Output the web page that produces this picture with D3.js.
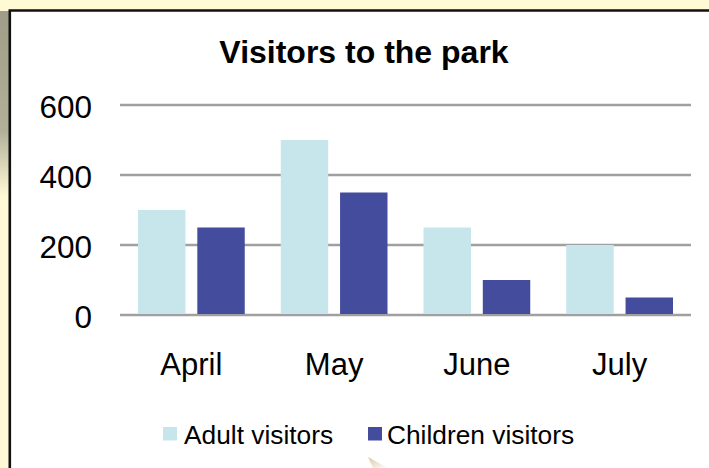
<!DOCTYPE html>
<html>
<head>
<meta charset="utf-8">
<title>Visitors to the park</title>
<script src="https://cdn.jsdelivr.net/npm/d3@7/dist/d3.min.js"></script>
<style>
  html, body { margin: 0; padding: 0; background: #fff9d6; }
  text { font-family: "Liberation Sans", Arial, sans-serif; fill: #000; }
</style>
</head>
<body>
<svg id="viz"></svg>
<script>
// chart data
var months = ["April", "May", "June", "July"];
var seriesNames = ["Adult visitors", "Children visitors"];
var adultVisitors = [300, 500, 250, 200];
var childrenVisitors = [250, 350, 100, 50];
var yTicks = [0, 200, 400, 600];

var width = 709;
var height = 468;
var colors = ["#c6e6eb", "#444c9e"];

var svg = d3.select("#viz").attr("width", width).attr("height", height);

// page background + the shadow to the left of the frame
var defs = svg.append("defs");
var grad = defs.append("linearGradient").attr("id", "shade")
    .attr("x1", 0).attr("y1", 0).attr("x2", 0).attr("y2", 1);
grad.append("stop").attr("offset", 0).attr("stop-color", "#9f9d87");
grad.append("stop").attr("offset", 0.65).attr("stop-color", "#b3b09a");
grad.append("stop").attr("offset", 1).attr("stop-color", "#fff9d6");

var tail = defs.append("linearGradient").attr("id", "tail")
    .attr("x1", 0).attr("y1", 0).attr("x2", 1).attr("y2", 1);
tail.append("stop").attr("offset", 0).attr("stop-color", "#d9c9a0");
tail.append("stop").attr("offset", 1).attr("stop-color", "#ffffff");

svg.append("rect").attr("width", width).attr("height", height).attr("fill", "#fff9d6");
svg.append("rect").attr("x", 0).attr("y", 11).attr("width", 9).attr("height", 185).attr("fill", "url(#shade)");

// white chart box with black frame (top + left visible)
svg.append("rect").attr("x", 10).attr("y", 11).attr("width", width).attr("height", height).attr("fill", "#fff");
svg.append("path")
    .attr("d", "M9.8," + height + "V10.5H" + width)
    .attr("fill", "none").attr("stroke", "#111").attr("stroke-width", 2.6);

// little shadow tail peeking at the bottom
svg.append("path").attr("d", "M368,457L388,468L373,468Z").attr("fill", "url(#tail)");

var margin = {left: 120, right: 18, top: 105, bottom: 153};
var x0 = d3.scaleBand().domain(months).range([margin.left, width - margin.right]);
var x1 = d3.scaleBand().domain(seriesNames).range([18, x0.bandwidth() - 18]).paddingInner(0.2);
var y = d3.scaleLinear().domain([0, 600]).range([height - margin.bottom, margin.top]);

// gridlines
svg.append("g").selectAll("line")
    .data(yTicks)
    .enter()
    .append("line")
    .attr("x1", margin.left)
    .attr("x2", width - margin.right)
    .attr("y1", function(d) { return y(d); })
    .attr("y2", function(d) { return y(d); })
    .attr("stroke", "#a0a0a0")
    .attr("stroke-width", 2.5);

// y tick labels
svg.append("g").selectAll("text")
    .data(yTicks)
    .enter()
    .append("text")
    .attr("x", 92)
    .attr("y", function(d) { return y(d) + 13; })
    .attr("text-anchor", "end")
    .style("font-size", "31.5px")
    .text(function(d) { return d; });

// bars
var rows = months.map(function(m, i) {
    return {month: m, values: [adultVisitors[i], childrenVisitors[i]]};
});

var groups = svg.append("g").selectAll("g")
    .data(rows)
    .enter()
    .append("g")
    .attr("transform", function(d) { return "translate(" + x0(d.month) + ",0)"; });

groups.selectAll("rect")
    .data(function(d) { return d.values.map(function(v, j) { return {name: seriesNames[j], value: v, j: j}; }); })
    .enter()
    .append("rect")
    .attr("x", function(d) { return x1(d.name); })
    .attr("width", x1.bandwidth())
    .attr("y", function(d) { return y(d.value); })
    .attr("height", function(d) { return y(0) - y(d.value) - 1; })
    .attr("fill", function(d) { return colors[d.j]; });

// category labels
svg.append("g").selectAll("text")
    .data(months)
    .enter()
    .append("text")
    .attr("x", function(d) { return x0(d) + x0.bandwidth() / 2; })
    .attr("y", 375)
    .attr("text-anchor", "middle")
    .style("font-size", "31px")
    .text(function(d) { return d; });

// title
svg.append("text")
    .attr("x", 364)
    .attr("y", 63)
    .attr("text-anchor", "middle")
    .style("font-size", "32px")
    .style("font-weight", "bold")
    .text("Visitors to the park");

// legend
var legendX = [163, 368];
var legend = svg.append("g").selectAll("g")
    .data(seriesNames)
    .enter()
    .append("g")
    .attr("transform", function(d, i) { return "translate(" + legendX[i] + ",427)"; });

legend.append("rect")
    .attr("width", 14)
    .attr("height", 13.5)
    .attr("fill", function(d, i) { return colors[i]; });

legend.append("text")
    .attr("x", function(d, i) { return i == 0 ? 21 : 19; })
    .attr("y", 16.5)
    .style("font-size", "26.3px")
    .text(function(d) { return d; });
</script>
</body>
</html>
